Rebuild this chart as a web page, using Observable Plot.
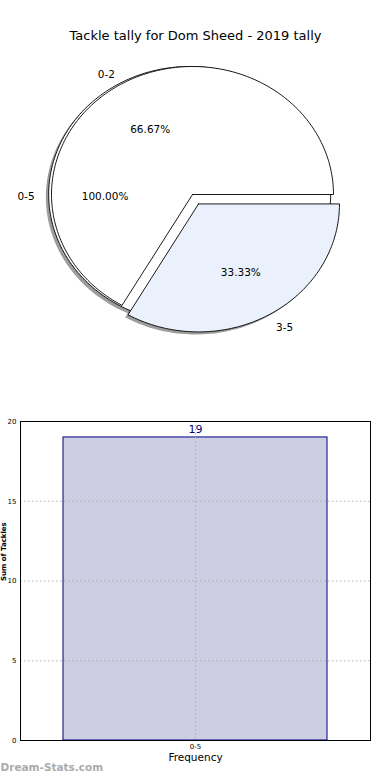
<!DOCTYPE html>
<html><head><meta charset="utf-8">
<script src="https://cdn.jsdelivr.net/npm/d3@7"></script>
<script src="https://cdn.jsdelivr.net/npm/@observablehq/plot@0.6"></script>
<style>body{margin:0;background:#fff;font-family:"DejaVu Sans",sans-serif}svg{display:block;font-family:"DejaVu Sans",sans-serif}</style>
</head><body>
<script>
const chartTitle = "Tackle tally for Dom Sheed - 2019 tally";
const outerLabels = ["0-5"];
const outerShares = [100];
const outerExplode = [0.02];
const outerColors = ["#ffffff"];
const innerLabels = ["0-2", "3-5"];
const innerShares = [66.67, 33.33];
const innerExplode = [0, 0.085];
const innerColors = ["#ffffff", "#eaf0fc"];
const barCategories = ["0-5"];
const barValues = [19];
const yTicks = [0, 5, 10, 15, 20];
const yLabel = "Sum of Tackles";
const xLabel = "Frequency";
const watermark = "Dream-Stats.com";

// Build wedge outlines (unit radius) from shares, counterclockwise from east
function wedges(labels, shares, explode, colors, prefix) {
  const total = d3.sum(shares);
  let start = 0;
  return labels.map((label, i) => {
    const sweep = shares[i] / total * 360;
    const a0 = start, a1 = start + sweep;
    start = a1;
    const mid = (a0 + a1) / 2 * Math.PI / 180;
    const ox = explode[i] * Math.cos(mid), oy = explode[i] * Math.sin(mid);
    const full = sweep >= 359.99;
    const n = Math.max(2, Math.ceil(sweep / 1.5));
    const pts = [];
    if (!full) pts.push({x: ox, y: oy});
    for (let k = 0; k <= n; k++) {
      const a = (a0 + sweep * k / n) * Math.PI / 180;
      pts.push({x: ox + Math.cos(a), y: oy + Math.sin(a)});
    }
    if (!full) pts.push({x: ox, y: oy});
    const key = prefix + i;
    return {
      label, share: shares[i], color: colors[i], mid, ox, oy, key,
      points: pts.map(p => ({...p, key})),
      labelPos: {x: ox + 1.1 * Math.cos(mid), y: oy + 1.1 * Math.sin(mid)},
      pctPos: {x: ox + 0.6 * Math.cos(mid), y: oy + 0.6 * Math.sin(mid)}
    };
  });
}

const outer = wedges(outerLabels, outerShares, outerExplode, outerColors, "o");
const inner = wedges(innerLabels, innerShares, innerExplode, innerColors, "i");
const allW = outer.concat(inner);

const shadowPts = outer.concat(inner.slice(1)).flatMap(w => w.points.map(p => ({x: p.x - 0.02, y: p.y - 0.02, key: p.key})));

const labelRows = allW.map(w => ({x: w.labelPos.x, y: w.labelPos.y, text: w.label, anchor: w.labelPos.x < 0 ? "end" : "start"}));
const pctRows = allW.map(w => ({x: w.pctPos.x, y: w.pctPos.y, text: w.share.toFixed(2) + "%"}));

const pie = Plot.plot({
  width: 390, height: 400, margin: 0,
  x: {domain: [-192 / 141, 198 / 141], axis: null},
  y: {domain: [-206 / 128, 194 / 128], axis: null},
  marks: [
    Plot.text([chartTitle], {frameAnchor: "top", dy: 30, text: d => d, fontSize: 13, fill: "#000"}),
    Plot.line(shadowPts, {x: "x", y: "y", z: "key", fill: "#4d4d4d", fillOpacity: 0.55, stroke: "none", curve: "linear"}),
    ...allW.map(w => Plot.line(w.points, {x: "x", y: "y", z: "key", fill: w.color, stroke: "#000", strokeWidth: 0.9, strokeLinejoin: "miter", curve: "linear"})),
    Plot.text(labelRows.filter(d => d.anchor === "end"), {x: "x", y: "y", text: "text", textAnchor: "end", fontSize: 10.5, dy: 2, fill: "#000"}),
    Plot.text(labelRows.filter(d => d.anchor === "start"), {x: "x", y: "y", text: "text", textAnchor: "start", fontSize: 10.5, dy: 2, fill: "#000"}),
    Plot.text(pctRows, {x: "x", y: "y", text: "text", fontSize: 10.5, dy: 2, fill: "#000"})
  ]
});
document.body.appendChild(pie);

const barRows = barCategories.map((c, i) => ({cat: c, value: barValues[i]}));

const bar = Plot.plot({
  width: 390, height: 380,
  marginTop: 21, marginBottom: 40, marginLeft: 20, marginRight: 20,
  style: {overflow: "visible"},
  x: {domain: barCategories, padding: 0.14, axis: null},
  y: {domain: [0, 20], axis: null},
  marks: [
    Plot.barY(barRows, {x: "cat", y: "value", fill: "#cdcde4", stroke: "#000080", strokeWidth: 1}),
    Plot.gridY(yTicks, {stroke: "#b0b0b0", strokeOpacity: 1, strokeDasharray: "1.5,2.5"}),
    Plot.gridX(barCategories, {stroke: "#b0b0b0", strokeOpacity: 1, strokeDasharray: "1.5,2.5"}),
    Plot.frame({stroke: "#000", strokeWidth: 1}),
    Plot.axisY(yTicks, {tickSize: 0, tickPadding: 4, fontSize: 7, label: null, tickFormat: d => String(d)}),
    Plot.axisX(barCategories, {tickSize: 0, tickPadding: 4, fontSize: 7, label: null}),
    Plot.text(barRows, {x: "cat", y: "value", text: d => String(d.value), dy: -4, lineAnchor: "bottom", fontSize: 11, fill: "#000080"}),
    Plot.text([xLabel], {frameAnchor: "bottom", dy: 20, text: d => d, fontSize: 10.5, fill: "#000"}),
    Plot.text([yLabel], {frameAnchor: "left", dx: -19.5, rotate: -90, lineAnchor: "top", text: d => d, fontSize: 7, fontWeight: "bold", fill: "#000"}),
    Plot.text([watermark], {frameAnchor: "bottom-left", dx: -20, dy: 30, textAnchor: "start", text: d => d, fontSize: 10.5, fontWeight: "bold", fill: "#aaaaaa"})
  ]
});
document.body.appendChild(bar);
</script>
</body></html>
